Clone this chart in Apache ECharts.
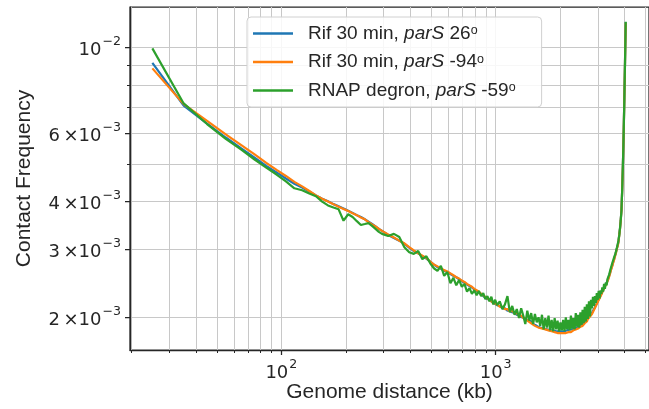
<!DOCTYPE html>
<html><head><meta charset="utf-8">
<script src="https://cdn.jsdelivr.net/npm/echarts@6/dist/echarts.min.js"></script>
<style>html,body{margin:0;padding:0;background:#fff}#c{width:649px;height:409px}</style>
</head><body><div id="c"></div>
<script>
// Genome distance (kb)
const distanceKb = [
  25,35,45,55,65,75,85,95,105,115,125,135,145,155,165,175,185,195,205,215,225,235,245,255,265,275,285,295,
  315,335,355,375,395,415,435,455,475,495,515,535,555,575,595,615,635,655,675,695,715,735,755,775,795,815,835,855,875,895,915,935,955,975,995,
  1015,1045,1075,1105,1135,1165,1195,1225,1255,1285,
  1315,1345,1375,1405,1435,1465,1495,1525,1555,1585,
  1615,1645,1675,1705,1735,1765,1795,1825,1855,1885,
  1915,1945,1975,2005,2035,2065,2095,2125,2155,2185,
  2215,2245,2275,2305,2335,2365,2395,2425,2455,2485,
  2515,2545,2575,2605,2635,2665,2695,2725,2755,2785,
  2815,2845,2875,2905,2935,2965,2995,3025,3055,3085,
  3115,3145,3175,3205,3235,3265,3295,3325,3355,3385,
  3415,3445,3475,3505,3535,3565,3595,3625,3655,3685,
  3715,3745,3775,3805,3835,3865,3895,3925,3955,3985,
  4015,4045
];
// Contact frequency, in units of 10^-3
const rifParS26 = [
  9.14,7.08,6.36,5.85,5.48,5.19,4.94,4.75,4.58,4.44,4.34,4.24,4.14,4.06,4.00,3.93,3.88,3.83,3.78,3.73,3.68,3.64,3.59,3.54,3.49,3.44,3.39,3.35,
  3.27,3.21,3.16,3.10,3.03,2.97,2.93,2.88,2.84,2.79,2.74,2.70,2.67,2.64,2.62,2.59,2.56,2.54,2.51,2.48,2.46,2.43,2.41,2.39,2.36,2.34,2.32,2.30,2.27,2.25,2.23,2.22,2.20,2.18,2.17,
  2.15,2.14,2.11,2.11,2.08,2.08,2.06,2.06,2.03,2.03,
  2.00,2.00,1.97,1.97,1.95,1.95,1.92,1.93,1.90,1.91,
  1.88,1.89,1.87,1.88,1.86,1.87,1.85,1.86,1.85,1.85,
  1.84,1.85,1.84,1.85,1.84,1.85,1.84,1.85,1.85,1.84,
  1.86,1.85,1.86,1.86,1.87,1.87,1.88,1.88,1.90,1.90,
  1.91,1.92,1.93,1.95,1.96,1.97,1.99,2.00,2.02,2.04,
  2.05,2.08,2.10,2.12,2.15,2.17,2.20,2.22,2.25,2.27,
  2.30,2.33,2.35,2.38,2.41,2.43,2.46,2.49,2.52,2.56,
  2.60,2.65,2.69,2.73,2.78,2.82,2.87,2.92,2.97,3.03,
  3.08,3.15,3.28,3.40,3.58,3.80,4.29,4.97,5.95,7.33,
  9.20,11.65
];
const rifParSm94 = [
  8.84,7.14,6.46,5.96,5.59,5.29,5.03,4.82,4.65,4.49,4.37,4.25,4.14,4.06,3.99,3.93,3.87,3.82,3.77,3.72,3.68,3.63,3.59,3.53,3.48,3.44,3.39,3.35,
  3.28,3.22,3.16,3.11,3.04,2.98,2.93,2.89,2.85,2.79,2.74,2.71,2.68,2.65,2.63,2.60,2.57,2.54,2.52,2.49,2.47,2.44,2.42,2.40,2.37,2.35,2.33,2.30,2.28,2.26,2.24,2.22,2.20,2.18,2.17,
  2.16,2.13,2.13,2.10,2.10,2.07,2.08,2.05,2.05,2.02,
  2.02,1.99,1.99,1.96,1.96,1.93,1.93,1.90,1.91,1.88,
  1.89,1.87,1.87,1.86,1.86,1.85,1.85,1.84,1.84,1.83,
  1.83,1.82,1.83,1.82,1.83,1.82,1.83,1.82,1.83,1.83,
  1.84,1.83,1.84,1.85,1.85,1.86,1.87,1.87,1.88,1.89,
  1.90,1.90,1.92,1.93,1.95,1.95,1.98,1.98,2.01,2.02,
  2.04,2.06,2.09,2.11,2.14,2.16,2.19,2.21,2.24,2.26,
  2.29,2.32,2.35,2.37,2.40,2.42,2.45,2.48,2.51,2.55,
  2.59,2.64,2.68,2.72,2.77,2.81,2.86,2.91,2.96,3.02,
  3.07,3.14,3.27,3.39,3.57,3.79,4.28,4.96,5.94,7.32,
  9.18,11.6
];
const rnapDegron = [
  9.96,7.17,6.34,5.80,5.44,5.13,4.89,4.69,4.50,4.32,4.27,4.19,4.12,3.99,3.90,3.85,3.81,3.56,3.70,3.64,3.55,3.47,3.49,3.51,3.45,3.39,3.33,3.29,
  3.25,3.29,3.23,3.04,2.95,2.92,2.97,2.83,2.88,2.76,2.68,2.64,2.72,2.56,2.62,2.45,2.53,2.42,2.50,2.40,2.44,2.33,2.38,2.30,2.35,2.28,2.34,2.27,2.31,2.23,2.27,2.20,2.26,2.16,2.22,
  2.15,2.20,2.10,2.16,2.27,2.06,2.14,2.03,2.10,1.99,
  2.11,2.02,1.92,2.08,1.96,2.05,1.92,2.04,1.94,2.00,
  1.90,2.03,1.86,1.99,1.88,2.02,1.85,1.97,1.84,1.99,
  1.86,1.96,1.84,1.94,1.85,1.97,1.84,2.00,1.86,1.97,
  1.85,2.02,1.87,1.99,1.86,2.05,1.89,2.03,1.88,2.06,
  1.91,2.09,1.93,2.13,1.95,2.16,1.98,2.20,2.01,2.22,
  2.11,2.26,2.14,2.27,2.18,2.31,2.22,2.34,2.24,2.35,
  2.30,2.39,2.33,2.44,2.37,2.46,2.42,2.51,2.50,2.58,
  2.59,2.68,2.68,2.77,2.78,2.85,2.87,2.93,2.95,3.04,
  3.06,3.17,3.27,3.41,3.57,3.79,4.28,4.96,5.94,7.32,
  9.18,11.68
];
const seriesNames = ['Rif 30 min, parS 26°', 'Rif 30 min, parS -94°', 'RNAP degron, parS -59°'];
const seriesValues = [rifParS26, rifParSm94, rnapDegron];
const xGridTicks = [20,30,40,50,60,70,80,90,100,200,300,400,500,600,700,800,900,1000,2000,3000,4000,5000];
const xLabelTicks = [100, 1000];
const yGridTicks = [0.002,0.003,0.004,0.005,0.006,0.007,0.008,0.009,0.01];
const yLabelTicks = [0.002,0.003,0.004,0.006,0.01];

const FONT = '"Liberation Sans", Arial, sans-serif';
const MATHFONT = '"DejaVu Sans", sans-serif';
const INK = '#262626';
const colors = ['#1f77b4', '#ff7f0e', '#2ca02c'];
const X_MIN = 19.66, X_MAX = 5195, Y_MIN = 0.001645, Y_MAX = 0.012752;

function sciLabel(v) {
  const e = Math.floor(Math.log10(v) + 1e-9);
  const m = Math.round(v / Math.pow(10, e));
  const exp = (e < 0 ? '\u2212' : '') + Math.abs(e);
  return (m === 1 ? '{b|10}' : '{b|' + m + '\u2009\u00d710}') + '{s|' + exp + '}';
}
const tickRich = {
  b: {fontSize: 18, fontFamily: MATHFONT, color: INK, lineHeight: 24, verticalAlign: 'bottom'},
  s: {fontSize: 12.6, fontFamily: MATHFONT, color: INK, lineHeight: 24, verticalAlign: 'top', padding: [0,0,0,1]}
};

const chart = echarts.init(document.getElementById('c'), null, {renderer: 'canvas'});
chart.setOption({
  animation: false,
  backgroundColor: '#ffffff',
  textStyle: {fontFamily: FONT},
  grid: {left: 130, top: 7, width: 528, height: 343, show: true, borderColor: INK, borderWidth: 1.25, backgroundColor: 'transparent'},
  legend: {
    orient: 'vertical', left: 247, top: 17,
    data: seriesNames,
    icon: 'rect',
    itemWidth: 40, itemHeight: 2.5, itemGap: 9.5,
    padding: [7, 26, 7, 6],
    backgroundColor: 'rgba(255,255,255,0.85)',
    borderColor: '#d0d0d0', borderWidth: 1, borderRadius: 4,
    formatter: function (name) {
      return name.replace(/^(.*?)parS (.*?)°$/, '{n|$1}{i|parS}{n| $2}{s|o}');
    },
    textStyle: {
      fontSize: 19, color: INK, lineHeight: 18, padding: [0, 0, 0, 10],
      rich: {
        n: {fontSize: 19, fontFamily: FONT, color: INK, lineHeight: 18},
        i: {fontSize: 19, fontFamily: FONT, color: INK, fontStyle: 'italic', lineHeight: 18},
        s: {fontSize: 12.5, fontFamily: FONT, color: INK, verticalAlign: 'top', lineHeight: 18}
      }
    }
  },
  xAxis: [
    {
      type: 'log', logBase: 10, min: X_MIN, max: X_MAX, position: 'bottom',
      name: 'Genome distance (kb)', nameLocation: 'middle', nameGap: 32,
      nameTextStyle: {fontSize: 21, color: INK, fontFamily: FONT},
      axisLine: {show: true, lineStyle: {color: INK, width: 1.25}},
      axisTick: {show: true, length: 3, customValues: xGridTicks, lineStyle: {color: INK, width: 1}},
      axisLabel: {show: false},
      splitLine: {show: true, lineStyle: {color: '#c8c8c8', width: 1}},
      minorTick: {show: false}, minorSplitLine: {show: false}
    },
    {
      type: 'log', logBase: 10, min: X_MIN, max: X_MAX, position: 'bottom', gridIndex: 0,
      axisLine: {show: false},
      axisTick: {show: true, length: 5, customValues: xLabelTicks, lineStyle: {color: INK, width: 1.25}},
      axisLabel: {show: true, customValues: xLabelTicks, margin: 8, formatter: sciLabel, rich: tickRich},
      splitLine: {show: false}
    }
  ],
  yAxis: [
    {
      type: 'log', logBase: 10, min: Y_MIN, max: Y_MAX, position: 'left',
      name: 'Contact Frequency', nameLocation: 'middle', nameGap: 95,
      nameTextStyle: {fontSize: 21, color: INK, fontFamily: FONT},
      axisLine: {show: true, lineStyle: {color: INK, width: 1.25}},
      axisTick: {show: true, length: 3, customValues: yGridTicks, lineStyle: {color: INK, width: 1}},
      axisLabel: {show: false},
      splitLine: {show: true, lineStyle: {color: '#c8c8c8', width: 1}}
    },
    {
      type: 'log', logBase: 10, min: Y_MIN, max: Y_MAX, position: 'left', gridIndex: 0,
      axisLine: {show: false},
      axisTick: {show: true, length: 5, customValues: yLabelTicks, lineStyle: {color: INK, width: 1.25}},
      axisLabel: {show: true, customValues: yLabelTicks, margin: 9, formatter: sciLabel, rich: tickRich},
      splitLine: {show: false}
    }
  ],
  series: seriesNames.map(function (name, k) {
    return {
      name: name, type: 'line', xAxisIndex: 0, yAxisIndex: 0,
      showSymbol: false, symbol: 'none',
      color: colors[k],
      lineStyle: {color: colors[k], width: 2.2},
      z: 2 + k,
      data: distanceKb.map(function (d, i) { return [d, seriesValues[k][i] * 1e-3]; })
    };
  })
});
</script>
</body></html>
